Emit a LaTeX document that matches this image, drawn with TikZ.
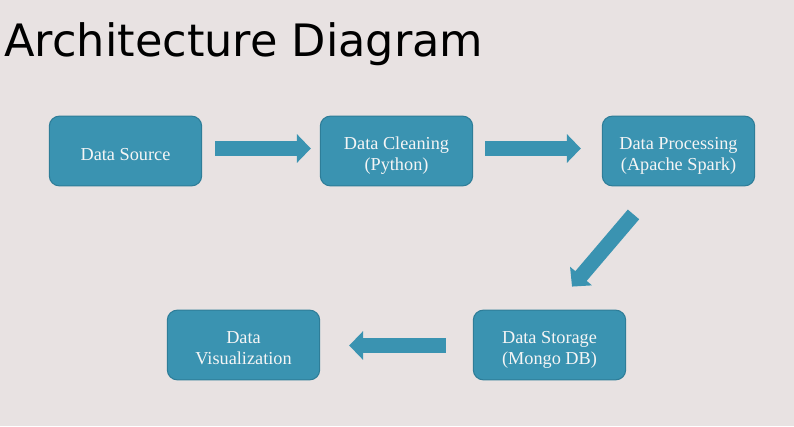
\documentclass[tikz,border=0pt]{standalone}
\usepackage{fontspec}
\setmainfont{Liberation Serif}
\newfontfamily\titlefont{DejaVu Sans}
\usepackage{tikz}
\usetikzlibrary{arrows.meta}
\definecolor{bgcol}{HTML}{E8E2E2}
\definecolor{boxfill}{HTML}{3A93B1}
\definecolor{boxline}{HTML}{2E7D98}
\newcommand{\stagetext}[1]{\vbox{\kern5.6pt\hbox{\begin{tabular}{@{}c@{}}#1\end{tabular}}}}

\begin{document}
\begin{tikzpicture}[x=0.02cm,y=-0.02cm,
  stage/.style={rectangle, rounded corners=5.7pt, fill=boxfill, draw=boxline, line width=0.6pt,
    minimum width=86.7pt, minimum height=39.7pt, inner sep=0pt, text=white!96!black,
    font=\fontsize{10.4}{12}\selectfont},
  flow/.style={draw=boxfill, line width=8.5pt, -{Triangle[length=7.9pt,width=15.9pt]}}]
  \fill[bgcol] (0,0) rectangle (794,426);
  \useasboundingbox (0,0) rectangle (794,426);
  \node (title) [anchor=base west, inner sep=0pt, font=\titlefont\fontsize{25.4}{30}\selectfont] at (4,56) {Architecture Diagram};
  \node (src)   [stage] at (125.5,151) {\stagetext{Data Source}};
  \node (clean) [stage] at (396.5,151) {\stagetext{Data Cleaning\\(Python)}};
  \node (proc)  [stage] at (678.5,151) {\stagetext{Data Processing\\(Apache Spark)}};
  \node (store) [stage] at (549.5,345) {\stagetext{Data Storage\\(Mongo DB)}};
  \node (viz)   [stage] at (243.5,345) {\stagetext{Data\\Visualization}};
  \draw[flow] ([shift={(13,-2.5)}]src.east) -- ([shift={(-9,-2.5)}]clean.west);
  \draw[flow] ([shift={(12,-2.5)}]clean.east) -- ([shift={(-21,-2.5)}]proc.west);
  \draw[flow] ([shift={(-45,28)}]proc.south) -- ([shift={(22.5,-23)}]store.north);
  \draw[flow] ([shift={(-27,0.5)}]store.west) -- ([shift={(29,0.5)}]viz.east);
\end{tikzpicture}
\end{document}
